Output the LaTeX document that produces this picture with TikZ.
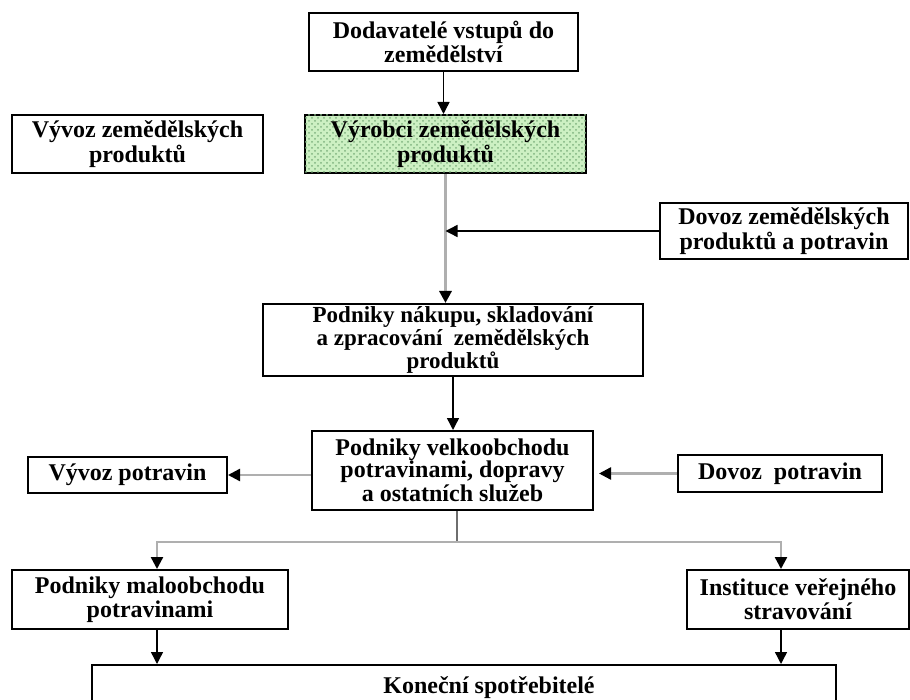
\documentclass[tikz,border=0pt]{standalone}
\usepackage{fontspec}
\setmainfont{Liberation Serif}
\usepackage{xcolor}
\usetikzlibrary{
  arrows.meta,
  patterns
}
\definecolor{lightline}{RGB}{175,175,175}
\definecolor{darkline}{RGB}{110,110,110}
\definecolor{hatchgreen}{RGB}{205,240,195}

\begin{document}
\begin{tikzpicture}[x=0.5pt, y=-0.5pt,
  every node/.style = {shape=rectangle, draw, line width=1pt,
    align=center, inner sep=0pt,
    font=\bfseries\fontsize{12}{10.5}\selectfont},
  greenbox/.style = {fill=hatchgreen,
    postaction={pattern=crosshatch dots, pattern color=green!40!black!50}},
  arrowtip/.style = {-{Triangle[length=6pt, width=6pt, color=black, fill=black]}},
  blackarrow/.style = {arrowtip, draw=black, line width=0.7pt},
  grayarrow/.style = {arrowtip, draw=lightline, line width=1.2pt}]
  \useasboundingbox (0,0) rectangle (910,700);

  \node[minimum width=134.5pt, minimum height=29pt] (dodavatele) at (443.5,42)
    {Dodavatelé vstupů do\\zemědělství};
  \node[greenbox, minimum width=140.5pt, minimum height=29pt] (vyrobci) at (445.5,144)
    {Výrobci zemědělských\\produktů};
  \node[minimum width=125.5pt, minimum height=29pt] (vyvozzem) at (137.5,144)
    {Vývoz zemědělských\\produktů};
  \node[minimum width=124pt, minimum height=28pt] (dovozzem) at (784,231)
    {Dovoz zemědělských\\produktů a potravin};
  \node[minimum width=190pt, minimum height=36pt,
    font=\bfseries\fontsize{11.5}{10}\selectfont] (nakup) at (453,340)
    {Podniky nákupu, skladování\\a zpracování\enspace zemědělských\\produktů};
  \node[minimum width=140.5pt, minimum height=39.5pt,
    font=\bfseries\fontsize{12}{11}\selectfont] (velkoobchod) at (452.5,470.5)
    {Podniky velkoobchodu\\potravinami, dopravy\\a ostatních služeb};
  \node[minimum width=99.5pt, minimum height=18pt] (vyvozpotr) at (127.5,475)
    {Vývoz potravin};
  \node[minimum width=102pt, minimum height=18.5pt] (dovozpotr) at (780,473.5)
    {Dovoz\enspace potravin};
  \node[minimum width=138pt, minimum height=29.5pt] (maloobchod) at (150,599.5)
    {Podniky maloobchodu\\potravinami};
  \node[minimum width=111pt, minimum height=29.5pt] (instituce) at (798,599.5)
    {Instituce veřejného\\stravování};
  \node[minimum width=372pt, minimum height=23pt] (spotrebitele) at (464,688)
    {\hspace*{25pt}Koneční spotřebitelé};

  \draw[blackarrow] (dodavatele.south) -- (dodavatele.south |- vyrobci.north);
  \draw[grayarrow, line width=1.5pt] (vyrobci.south) -- (vyrobci.south |- nakup.north);
  \draw[blackarrow] (dovozzem.west) -- (vyrobci.south |- dovozzem.west);
  \draw[blackarrow] (nakup.south) -- (nakup.south |- velkoobchod.north);
  \draw[grayarrow] (velkoobchod.west |- vyvozpotr.east) -- (vyvozpotr.east);
  \draw[grayarrow, shorten >=2.5pt] (dovozpotr.west) -- (velkoobchod.east |- dovozpotr.west);
  \draw[darkline, line width=1pt] ([xshift=2pt]velkoobchod.south) -- ++(0,31) coordinate (split);
  \draw[grayarrow] (split) -| ([xshift=3.5pt]maloobchod.north);
  \draw[grayarrow] (split) -| ([xshift=-8.5pt]instituce.north);
  \draw[blackarrow] ([xshift=3.5pt]maloobchod.south) -- ([xshift=3.5pt]maloobchod.south |- spotrebitele.north);
  \draw[blackarrow] ([xshift=-8.5pt]instituce.south) -- ([xshift=-8.5pt]instituce.south |- spotrebitele.north);
\end{tikzpicture}
\end{document}
